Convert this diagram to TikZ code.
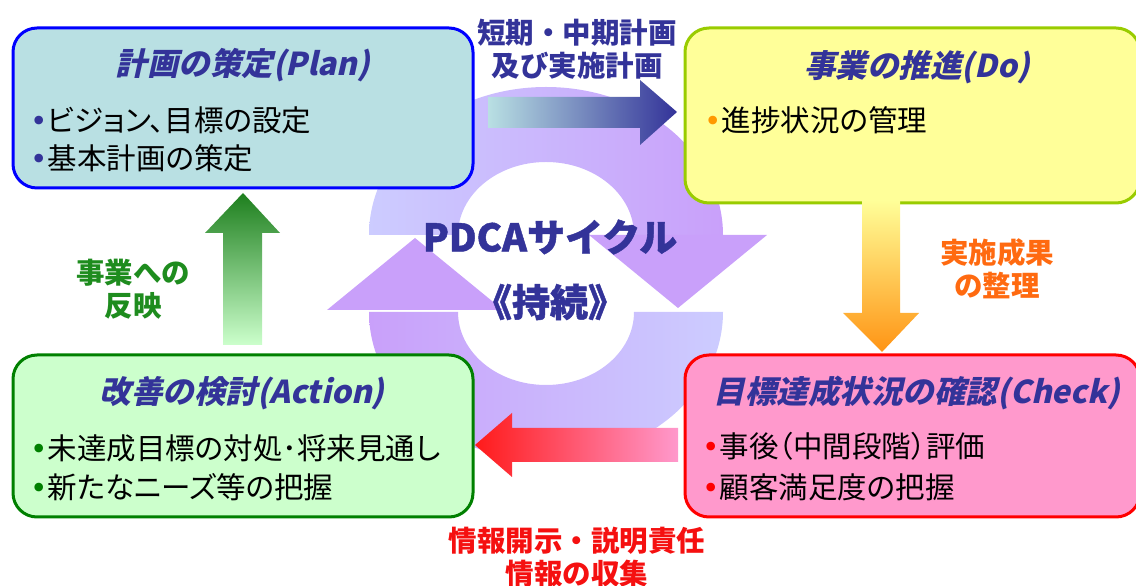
\documentclass[tikz,border=0pt]{standalone}
\usepackage{fontspec}
\newfontfamily\jp[RawFeature=+palt]{Noto Sans CJK JP}
\newfontfamily\jplbl{Noto Sans CJK JP}
\newfontfamily\jptitle[FakeSlant=0.22]{Noto Sans CJK JP}
\newfontfamily\jpheavy[FakeBold=1.2]{Noto Sans CJK JP}
\newfontfamily\bul{DejaVu Sans}
\definecolor{navy}{HTML}{333399}
\definecolor{ringlight}{HTML}{CCCCFF}
\definecolor{ringdark}{HTML}{C9A0FA}
\definecolor{planfill}{HTML}{B9E0E3}
\definecolor{planborder}{HTML}{0000FF}
\definecolor{dofill}{HTML}{FFFF99}
\definecolor{doborder}{HTML}{99CC00}
\definecolor{actfill}{HTML}{CCFFCC}
\definecolor{actborder}{HTML}{008000}
\definecolor{chkfill}{HTML}{FF99CC}
\definecolor{chkborder}{HTML}{FF0000}
\definecolor{arrgreen}{HTML}{1E7F1E}
\definecolor{arrorange}{HTML}{FF9414}
\definecolor{arrred}{HTML}{FF1A1A}
\definecolor{lblgreen}{HTML}{1E8C1E}
\definecolor{lblorange}{HTML}{FF6A10}
\definecolor{lblred}{HTML}{F51010}
\definecolor{bulorange}{HTML}{FF9900}
\tikzset{
  box/.style={rounded corners=24pt, line width=3pt, minimum width=460pt, inner sep=0pt},
  titletext/.style={font=\jptitle\bfseries\fontsize{31.5}{36}\selectfont, text=navy, inner sep=0pt},
  bodytext/.style={font=\jp\fontsize{29.5}{34}\selectfont, anchor=west, inner sep=0pt},
  lbl/.style={font=\jplbl\bfseries\fontsize{28.5}{33}\selectfont, inner sep=0pt, align=center},
  center/.style={font=\jpheavy\bfseries\fontsize{38}{42}\selectfont, text=navy, inner sep=0pt}
}
\newcommand\bt[1]{{\bul\color{#1}•}}
\begin{document}
\begin{tikzpicture}[x=1pt,y=1pt]
\useasboundingbox (0,0) rectangle (1136,586);
\clip (0,0) rectangle (1136,586);
% ring
\shade[left color=ringlight, right color=ringdark] (369,351) arc[start angle=180,end angle=0,x radius=177,y radius=148] -- (634,351) arc[start angle=0,end angle=180,x radius=88,y radius=73] -- cycle;
\fill[ringdark] (589,351) -- (767,351) -- (678,278) -- cycle;
\shade[left color=ringdark, right color=ringlight] (723,274) arc[start angle=0,end angle=-180,x radius=177,y radius=148] -- (458,274) arc[start angle=180,end angle=360,x radius=88,y radius=73] -- cycle;
\fill[ringdark] (327,276) -- (503,276) -- (415,348) -- cycle;
% boxes
\node[box, draw=planborder, fill=planfill, minimum height=160pt] (plan) at (243,478) {};
\node[box, draw=doborder, fill=dofill, minimum height=175pt, minimum width=455pt] (do) at (912.5,470.5) {};
\node[box, draw=actborder, fill=actfill, minimum height=162pt] (act) at (243,150) {};
\node[box, draw=chkborder, fill=chkfill, minimum height=162pt, minimum width=455pt] (chk) at (912.5,150) {};
% block arrows
\shade[left color=planfill, right color=navy] (488,458) -- (488,489) -- (640,489) -- (640,506) -- (677,474) -- (640,441) -- (640,458) -- cycle;
\shade[top color=dofill, bottom color=arrorange] (862,386) -- (862,273) -- (843,273) -- (882,234) -- (919,273) -- (900,273) -- (900,386) -- cycle;
\shade[left color=arrred, right color=chkfill] (678,124) -- (678,158) -- (512,158) -- (512,173) -- (475,141) -- (512,109) -- (512,124) -- cycle;
\shade[top color=arrgreen, bottom color=actfill] (223,241) -- (223,353) -- (205,353) -- (243,393) -- (280,353) -- (262,353) -- (262,241) -- cycle;
% titles
\node[titletext] (tplan) at (243,521) {計画の策定(Plan)};
\node[titletext] (tdo) at (917,519) {事業の推進(Do)};
\node[titletext] (tact) at (242,193) {改善の検討(Action)};
\node[titletext] (tchk) at (917,193) {目標達成状況の確認(Check)};
% body
\node[bodytext] (p1) at (30,466) {\bt{navy}ビジョン、目標の設定};
\node[bodytext] (p2) at (30,428) {\bt{navy}基本計画の策定};
\node[bodytext] (d1) at (704,466) {\bt{bulorange}進捗状況の管理};
\node[bodytext] (a1) at (30,138) {\bt{actborder}未達成目標の対処･将来見通し};
\node[bodytext] (a2) at (30,99) {\bt{actborder}新たなニーズ等の把握};
\node[bodytext] (c1) at (702,140) {\bt{chkborder}事後（中間段階）評価};
\node[bodytext] (c2) at (702,99) {\bt{chkborder}顧客満足度の把握};
% labels
\node[lbl, text=navy] (ltop) at (577,537) {短期・中期計画\\及び実施計画};
\node[lbl, text=lblorange] (lright) at (997,317) {実施成果\\の整理};
\node[lbl, text=lblgreen] (lleft) at (133,297) {事業への\\反映};
\node[lbl, text=lblred] (lbot) at (577,29) {情報開示・説明責任\\情報の収集};
% center
\node[center] (pdca) at (550,349) {PDCAサイクル};
\node[center] (jizoku) at (550,284) {《持続》};
\end{tikzpicture}
\end{document}
